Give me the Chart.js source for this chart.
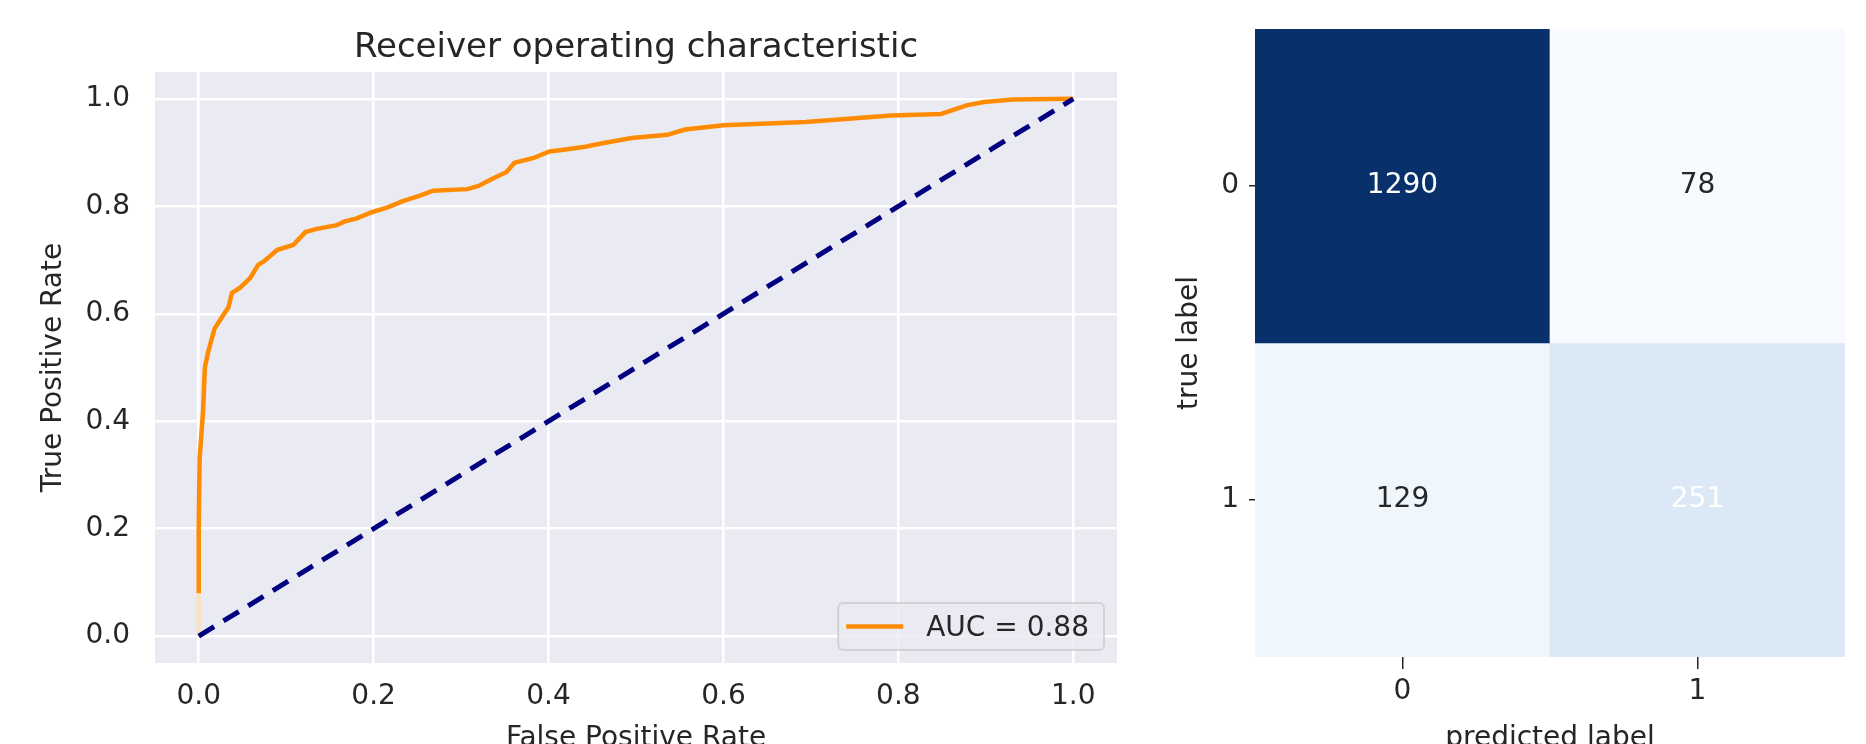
<!DOCTYPE html>
<html><head><meta charset="utf-8">
<script src="https://cdn.jsdelivr.net/npm/chart.js@4.4.1/dist/chart.umd.min.js"></script>
<style>
html,body{margin:0;padding:0;background:#fff;overflow:hidden;}
#wrap{position:relative;width:1866px;height:744px;}
#roc{position:absolute;left:0;top:0;}
#cm{position:absolute;left:1150px;top:0;}
</style></head><body>
<div id="wrap"><canvas id="roc" width="1150" height="744"></canvas><canvas id="cm" width="716" height="744"></canvas></div>
<script>
// ---- ROC data ----
const fpr = [0, 0, 0, 0.001, 0.005, 0.007, 0.011, 0.018, 0.027, 0.034,
  0.038, 0.047, 0.059, 0.068, 0.074, 0.09, 0.108, 0.122, 0.135, 0.158,
  0.167, 0.18, 0.198, 0.216, 0.234, 0.253, 0.268, 0.307, 0.32, 0.334,
  0.352, 0.361, 0.383, 0.401, 0.415, 0.442, 0.46, 0.495, 0.536, 0.556,
  0.6, 0.694, 0.792, 0.849, 0.878, 0.898, 0.931, 1.0];
const tpr = [0, 0.08, 0.2, 0.33, 0.42, 0.5, 0.53, 0.572, 0.595, 0.612,
  0.639, 0.648, 0.667, 0.691, 0.697, 0.719, 0.728, 0.752, 0.758, 0.765,
  0.772, 0.777, 0.789, 0.798, 0.81, 0.82, 0.829, 0.832, 0.838, 0.85,
  0.864, 0.881, 0.89, 0.902, 0.905, 0.911, 0.917, 0.927, 0.933, 0.943,
  0.951, 0.957, 0.969, 0.972, 0.988, 0.994, 0.999, 1.0];
const chanceX = [0, 1];
const chanceY = [0, 1];
const aucLabel = 'AUC = 0.88';
const rocTicks = [0, 0.2, 0.4, 0.6, 0.8, 1.0];

// ---- Confusion matrix data ----
const predictedLabels = ['0', '1'];
const trueLabels = ['0', '1'];
const cmRow0 = [1290, 78];
const cmRow1 = [129, 251];
const cmRows = [cmRow0, cmRow1];

const FAMILY = "'DejaVu Sans', 'Liberation Sans', sans-serif";
const TXT = '#262626';
Chart.defaults.font.family = FAMILY;
Chart.defaults.color = TXT;

const plotBg = {
  id: 'plotBg',
  beforeDraw(chart, args, o) {
    const {ctx, chartArea: a} = chart;
    ctx.save();
    ctx.fillStyle = o.color;
    ctx.fillRect(a.left, a.top, a.right - a.left, a.bottom - a.top);
    ctx.restore();
  }
};

const boxLegend = {
  id: 'boxLegend',
  afterDatasetsDraw(chart, args, o) {
    const ds = chart.data.datasets.find(d => d.label);
    if (!ds) return;
    const {ctx, chartArea: a} = chart;
    ctx.save();
    ctx.font = o.size + 'px ' + FAMILY;
    const tw = ctx.measureText(ds.label).width;
    const w = o.padL + o.lineLen + o.gap + tw + o.padR;
    const h = o.height;
    const x = a.right - o.margin - w;
    const y = a.bottom - o.margin - h;
    const r = 5;
    ctx.beginPath();
    ctx.moveTo(x + r, y);
    ctx.arcTo(x + w, y, x + w, y + h, r);
    ctx.arcTo(x + w, y + h, x, y + h, r);
    ctx.arcTo(x, y + h, x, y, r);
    ctx.arcTo(x, y, x + w, y, r);
    ctx.closePath();
    ctx.fillStyle = 'rgba(234,234,242,0.8)';
    ctx.fill();
    ctx.strokeStyle = 'rgba(204,204,204,0.8)';
    ctx.lineWidth = 2;
    ctx.stroke();
    ctx.beginPath();
    ctx.moveTo(x + o.padL, y + h / 2);
    ctx.lineTo(x + o.padL + o.lineLen, y + h / 2);
    ctx.strokeStyle = ds.borderColor;
    ctx.lineWidth = ds.borderWidth;
    ctx.stroke();
    ctx.fillStyle = TXT;
    ctx.textBaseline = 'middle';
    ctx.textAlign = 'left';
    ctx.fillText(ds.label, x + o.padL + o.lineLen + o.gap, y + h / 2 + 2);
    ctx.restore();
  }
};

new Chart(document.getElementById('roc'), {
  type: 'scatter',
  data: {
    datasets: [
      {
        label: '',
        data: chanceX.map((x, i) => ({x, y: chanceY[i]})),
        showLine: true, borderColor: '#000080', borderWidth: 5, borderDash: [18, 11],
        pointRadius: 0, order: 0
      },
      {
        label: aucLabel,
        data: fpr.map((x, i) => ({x, y: tpr[i]})),
        showLine: true, borderColor: '#ff8c00', borderWidth: 4.5,
        pointRadius: 0, order: 1,
        segment: { borderColor: c => c.p0DataIndex === 0 ? '#fce2c4' : undefined }
      }
    ]
  },
  options: {
    responsive: false, animation: false, events: [],
    layout: { padding: { left: 0, right: 33, top: 0, bottom: 0 } },
    plugins: {
      legend: { display: false },
      tooltip: { enabled: false },
      title: {
        display: true, fullSize: false, text: 'Receiver operating characteristic', color: TXT,
        font: { size: 34, weight: 'normal', lineHeight: 1.2 },
        padding: { top: 27.5, bottom: 3.7 }
      },
      plotBg: { color: '#eaeaf2' },
      boxLegend: { size: 28, padL: 8, lineLen: 57, gap: 23, padR: 15, height: 47, margin: 13 }
    },
    scales: {
      x: {
        type: 'linear', min: -0.05, max: 1.05,
        afterBuildTicks: s => { s.ticks = rocTicks.map(v => ({value: v})); },
        afterFit: s => { s.height = 81; },
        grid: { color: '#ffffff', lineWidth: 2.5, drawTicks: false },
        border: { display: false },
        ticks: { padding: 17, color: TXT, font: { size: 28 }, callback: v => v.toFixed(1) },
        title: { display: true, text: 'False Positive Rate', color: TXT, font: { size: 28, lineHeight: 0.4 }, padding: { top: 0, bottom: 0 } }
      },
      y: {
        type: 'linear', min: -0.05, max: 1.05,
        afterBuildTicks: s => { s.ticks = rocTicks.map(v => ({value: v})); },
        afterFit: s => { s.width = 155; },
        grid: { color: '#ffffff', lineWidth: 2.5, drawTicks: false },
        border: { display: false },
        ticks: { padding: 25, color: TXT, font: { size: 28 }, callback: v => v.toFixed(1) },
        title: { display: true, text: 'True Positive Rate', color: TXT, font: { size: 28, lineHeight: 1 }, padding: { top: 40, bottom: 0 } }
      }
    }
  },
  plugins: [plotBg, boxLegend]
});

// ---- Heatmap ----
const bluesStops = ['#f7fbff', '#deebf7', '#c6dbef', '#9ecae1', '#6baed6', '#4292c6', '#2171b5', '#08519c', '#08306b'];
function hex2rgb(h) { return [1, 3, 5].map(i => parseInt(h.substr(i, 2), 16)); }
function blues(t) {
  t = Math.max(0, Math.min(1, t));
  const n = bluesStops.length;
  const p = t * (n - 1);
  const i = Math.min(Math.floor(p), n - 2);
  const f = p - i;
  const a = hex2rgb(bluesStops[i]), b = hex2rgb(bluesStops[i + 1]);
  const c = a.map((v, k) => Math.round(v + (b[k] - v) * f));
  return 'rgb(' + c.join(',') + ')';
}
const allVals = cmRows.flat();
const vmin = Math.min(...allVals), vmax = Math.max(...allVals);

const cellText = {
  id: 'cellText',
  afterDatasetsDraw(chart) {
    const {ctx} = chart;
    ctx.save();
    ctx.font = '28px ' + FAMILY;
    ctx.textAlign = 'center';
    ctx.textBaseline = 'middle';
    chart.data.datasets.forEach((ds, r) => {
      const meta = chart.getDatasetMeta(r);
      meta.data.forEach((el, c) => {
        ctx.fillStyle = r === c ? '#ffffff' : TXT;
        ctx.fillText(String(ds.counts[c]), el.x, (el.y + el.base) / 2);
      });
    });
    ctx.restore();
  }
};

new Chart(document.getElementById('cm'), {
  type: 'bar',
  data: {
    labels: predictedLabels,
    datasets: cmRows.map((row, r) => ({
      label: trueLabels[r],
      counts: row,
      data: row.map(() => [r, r + 1]),
      backgroundColor: row.map(v => blues((v - vmin) / (vmax - vmin))),
      borderWidth: 0, barPercentage: 1, categoryPercentage: 1, grouped: false
    }))
  },
  options: {
    responsive: false, animation: false, events: [],
    layout: { padding: { left: 0, right: 21, top: 29, bottom: 0 } },
    plugins: { legend: { display: false }, tooltip: { enabled: false } },
    scales: {
      x: {
        type: 'category', offset: true,
        afterFit: s => { s.height = 87; },
        grid: { offset: false, drawOnChartArea: false, drawTicks: true, tickLength: 12, color: TXT, lineWidth: 1.5 },
        border: { display: false },
        ticks: { padding: 6, color: TXT, font: { size: 28 } },
        title: { display: true, text: 'predicted label', color: TXT, font: { size: 28, lineHeight: 0.4 }, padding: { top: 0, bottom: 0 } }
      },
      y: {
        type: 'linear', min: 0, max: 2, reverse: true,
        afterBuildTicks: s => { s.ticks = trueLabels.map((_, i) => ({value: i + 0.5})); },
        afterFit: s => { s.width = 105; },
        grid: { drawOnChartArea: false, drawTicks: true, tickLength: 6, color: TXT, lineWidth: 1.5 },
        border: { display: false },
        ticks: { padding: 10, color: TXT, font: { size: 28 }, callback: (v, i) => trueLabels[i] },
        title: { display: true, text: 'true label', color: TXT, font: { size: 28, lineHeight: 1 }, padding: { top: 26, bottom: 0 } }
      }
    }
  },
  plugins: [cellText]
});
</script>
</body></html>
